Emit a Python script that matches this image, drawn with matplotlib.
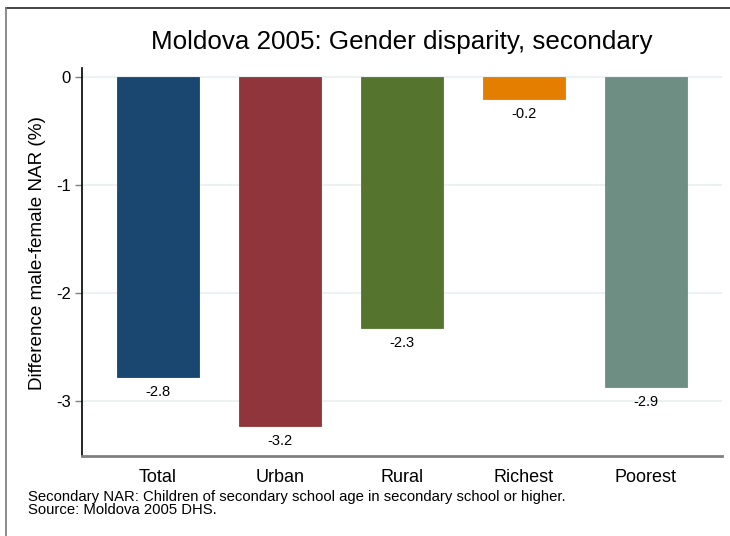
import matplotlib
matplotlib.use("Agg")
import matplotlib.pyplot as plt
from matplotlib.lines import Line2D

categories = ["Total", "Urban", "Rural", "Richest", "Poorest"]
values = [-2.78, -3.23, -2.32, -0.20, -2.87]
value_labels = ["-2.8", "-3.2", "-2.3", "-0.2", "-2.9"]
colors = ["#1a476f", "#90353b", "#55752f", "#e37e00", "#6e8e84"]
yticks = [0, -1, -2, -3]

plt.rcParams['font.family'] = ['Liberation Sans', 'DejaVu Sans']

fig = plt.figure(figsize=(7.3, 5.36), dpi=100)
ax = fig.add_axes([82/730, 1-456/536, (722-82)/730, (456-68)/536])

x = list(range(len(categories)))
ax.bar(x, values, width=0.672, color=colors, edgecolor=colors, linewidth=0.6, zorder=3)
for xi, v, lab in zip(x, values, value_labels):
    ax.annotate(lab, (xi, v), xytext=(0, -15), textcoords="offset pixels",
                ha="center", va="center", fontsize=10.5, zorder=4)

ax.set_xlim(-0.623, 4.623)
ax.set_ylim(-3.509, 0.083)
ax.set_xticks(x)
ax.set_xticklabels(categories, fontsize=13)
ax.set_yticks(yticks)
ax.set_yticklabels([str(t) for t in yticks], fontsize=12)
ax.tick_params(axis="x", length=0, pad=9)
ax.tick_params(axis="y", length=5, width=1, color="#808080", pad=3)
ax.yaxis.grid(True, color="#eaf1f3", linewidth=1.3, zorder=0)
ax.set_axisbelow(True)
for s in ["top", "right"]:
    ax.spines[s].set_visible(False)
ax.spines["left"].set_color("black")
ax.spines["left"].set_linewidth(1.2)
ax.spines["bottom"].set_color("#808080")
ax.spines["bottom"].set_linewidth(2)

fig.text(402/730, 1-42/536, "Moldova 2005: Gender disparity, secondary",
         ha="center", va="center", fontsize=18.7)
fig.text(38/730, 1-253/536, "Difference male-female NAR (%)", rotation=90,
         ha="center", va="center", fontsize=13.6)
fig.text(28/730, 1-490/536,
         "Secondary NAR: Children of secondary school age in secondary school or higher.\nSource: Moldova 2005 DHS.",
         ha="left", va="top", fontsize=10.7, linespacing=0.92)

fig.add_artist(Line2D([6/730, 1], [1-8/536, 1-8/536], color="#222222", linewidth=1.2,
                      transform=fig.transFigure))
fig.add_artist(Line2D([6/730, 6/730], [0, 1-8/536], color="#777777", linewidth=1.2,
                      transform=fig.transFigure))

fig.savefig("out.png", dpi=100)
